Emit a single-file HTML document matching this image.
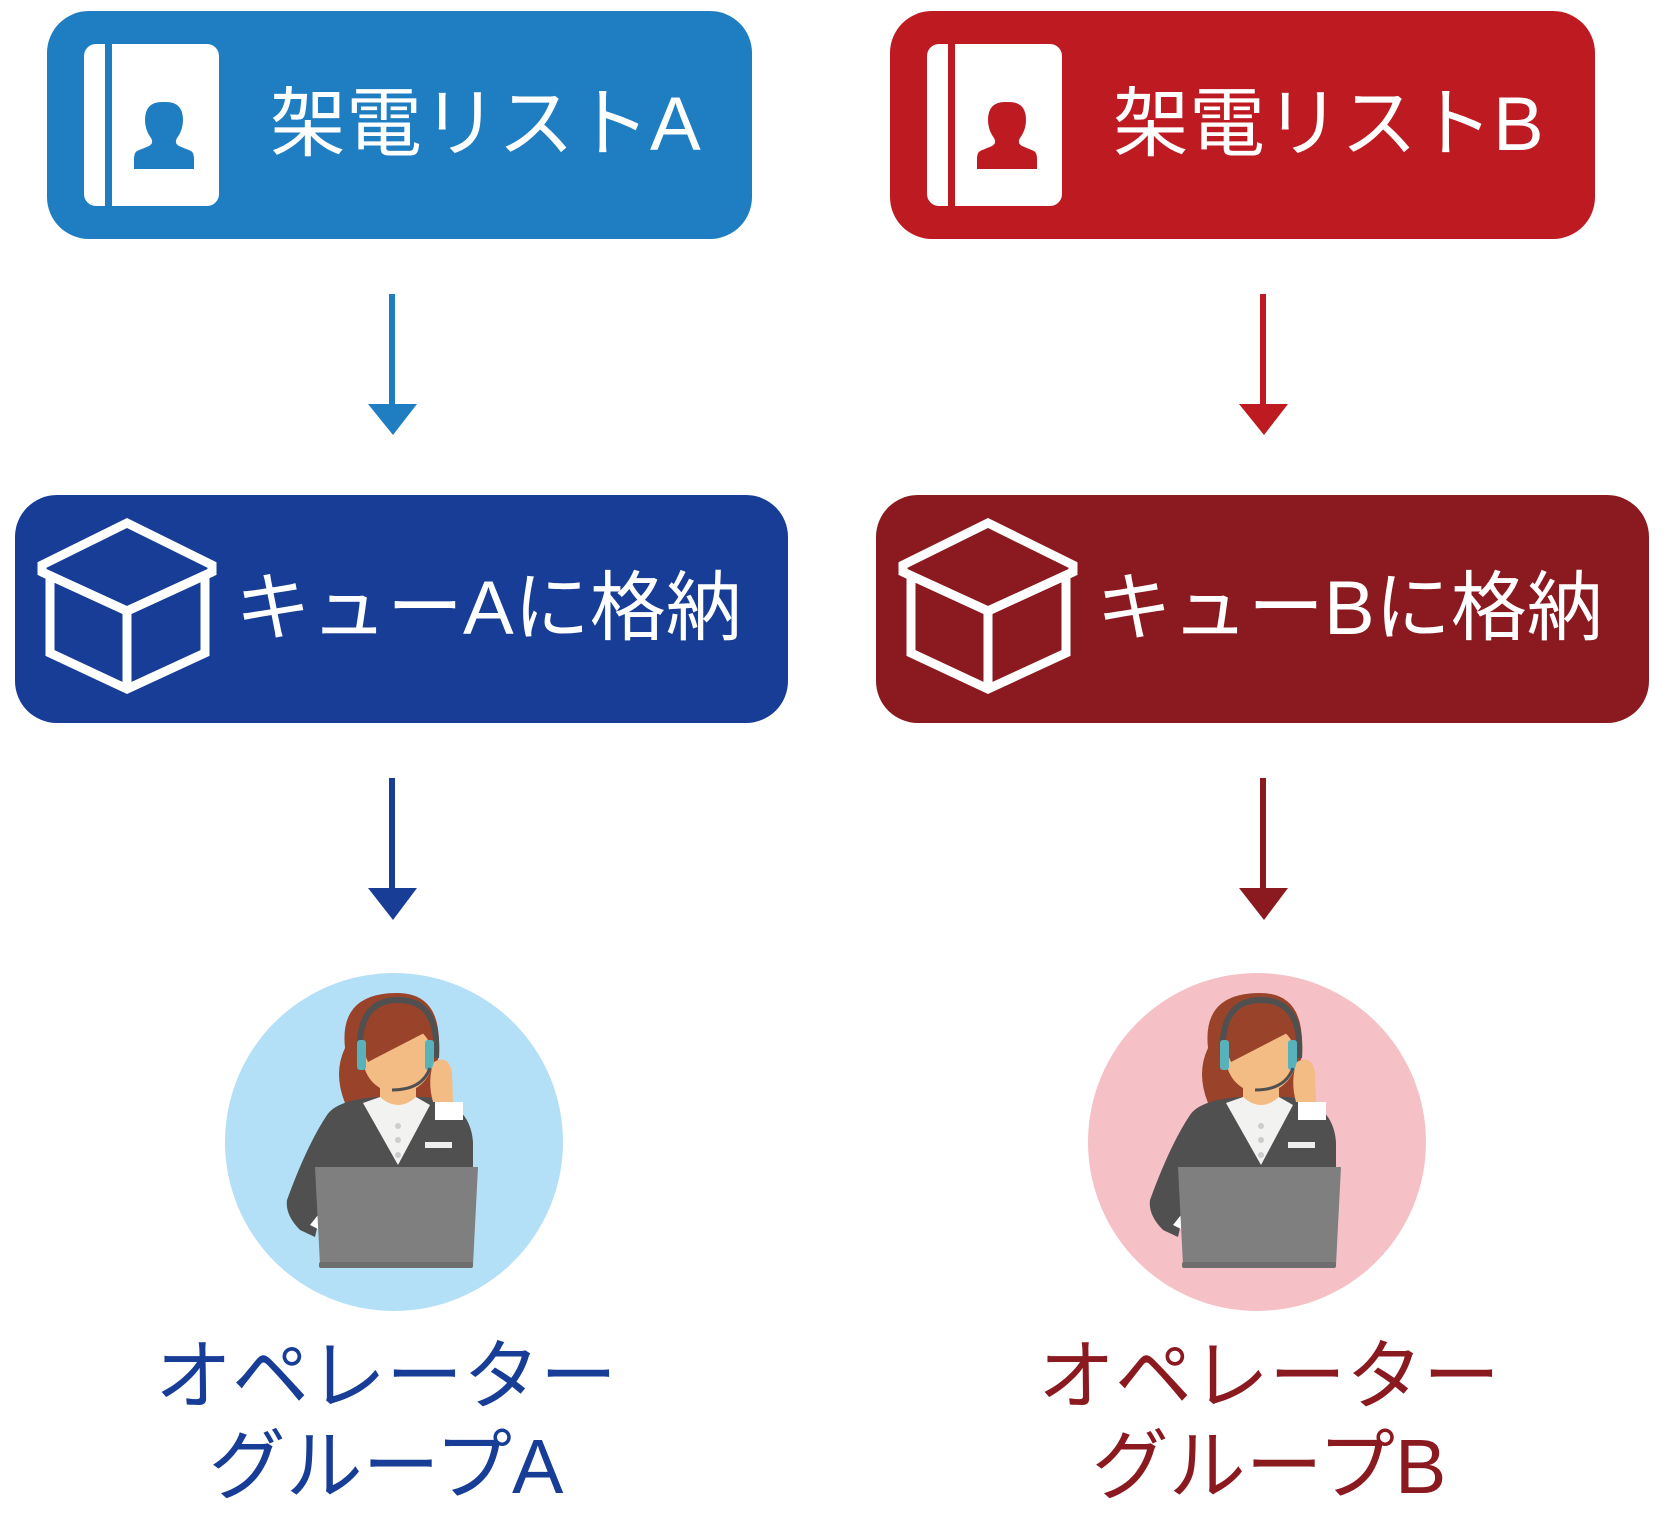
<!DOCTYPE html>
<html><head><meta charset="utf-8"><style>
html,body{margin:0;padding:0;background:#fff;}
svg{display:block;}
text{font-family:"Liberation Sans","Noto Sans CJK JP",sans-serif;}
</style></head><body>
<svg width="1665" height="1535" viewBox="0 0 1665 1535" xmlns="http://www.w3.org/2000/svg">
<defs>
<g id="book">
  <path d="M84,56 a12,12 0 0 1 12,-12 h9 v162 h-9 a12,12 0 0 1 -12,-12 z" fill="#fff"/>
  <path d="M112,44 h95 a12,12 0 0 1 12,12 v138 a12,12 0 0 1 -12,12 h-95 z" fill="#fff"/>
</g>
<g id="boxicon" fill="none" stroke="#fff" stroke-width="9" stroke-linejoin="miter">
  <polygon points="42,565 127,523 212,565 212,572 127,611 42,572"/>
  <polyline points="42,572 127,611 212,572"/>
  <polyline points="50,575 50,653 127,689 205,653 205,575"/>
  <line x1="127" y1="611" x2="127" y2="689"/>
</g>
<g id="person">
  <!-- hair back -->
  <path d="M345,1103 q-12,-30 0,-55 q-6,-55 52,-55 q42,0 42,50 l-4,60 z" fill="#99432b"/>
  <!-- body / jacket -->
  <path d="M300,1230 q-15,-15 -13,-30 q20,-55 40,-85 q10,-15 50,-18 h48 q45,5 48,45 v60 h-150 l-8,35 z" fill="#505050"/>
  <path d="M310,1225 l8,-10 l2,15 z" fill="#fff"/>
  <!-- neck -->
  <rect x="380" y="1080" width="36" height="28" fill="#f4bc85"/>
  <!-- collar -->
  <path d="M363,1103 l17,-6 q18,16 36,0 l14,8 l-32,60 z" fill="#f2f2f1"/>
  <circle cx="398" cy="1126" r="3" fill="#ccc"/><circle cx="398" cy="1140" r="3" fill="#ccc"/><circle cx="398" cy="1155" r="3" fill="#ccc"/>
  <rect x="425" y="1142" width="27" height="6" fill="#eee"/>
  <!-- face -->
  <ellipse cx="398" cy="1058" rx="35" ry="35" fill="#f4bc85"/>
  <path d="M363,1050 q-2,-35 35,-38 q25,0 32,18 l-62,32z" fill="#99432b"/>
  <path d="M426,1030 l8,22 l0,-20z" fill="#99432b"/>
  <!-- headset -->
  <path d="M360,1058 q-4,-58 38,-58 q42,0 38,58" fill="none" stroke="#505050" stroke-width="6"/>
  <rect x="357" y="1040" width="9" height="30" rx="3" fill="#57b2bb"/>
  <rect x="425" y="1040" width="9" height="30" rx="3" fill="#57b2bb"/>
  <path d="M430,1068 q-8,22 -38,22" stroke="#505050" stroke-width="3" fill="none"/>
  <!-- hand -->
  <path d="M434,1062 q14,-8 18,10 l1,30 h-20 q-6,-22 1,-40z" fill="#f4bc85"/>
  <rect x="435" y="1102" width="28" height="18" fill="#fff"/>
  <!-- laptop -->
  <path d="M315,1167 h163 l-5,98 h-153 z" fill="#7f7f7f"/>
  <rect x="319" y="1262" width="154" height="6" rx="2" fill="#6e6e6e"/>
</g>
</defs>

<!-- Left column -->
<rect x="47" y="11" width="705" height="228" rx="42" fill="#1f7ec2"/>
<use href="#book"/>
<path d="M166,102 q17,0 17,18 q0,10 -6,18 q-3,5 2,8 l12,5 q3,2 3,8 v10 h-60 v-10 q0,-6 3,-8 l12,-5 q5,-3 2,-8 q-6,-8 -6,-18 q0,-18 17,-18z" fill="#1f7ec2"/>
<text x="270" y="150" font-size="76" fill="#fff">架電リストA</text>

<line x1="392" y1="294" x2="392" y2="406" stroke="#1f7ec2" stroke-width="6"/>
<polygon points="368,404 417,404 393,435" fill="#1f7ec2"/>

<rect x="15" y="495" width="773" height="228" rx="42" fill="#173d96"/>
<use href="#boxicon"/>
<text x="235" y="634" font-size="76" fill="#fff">キューAに格納</text>

<line x1="392" y1="778" x2="392" y2="890" stroke="#173d96" stroke-width="6"/>
<polygon points="368,888 417,888 393,920" fill="#173d96"/>

<circle cx="394" cy="1142" r="169" fill="#b3e0f6"/>
<use href="#person"/>
<text x="386" y="1403" font-size="77" fill="#173d96" text-anchor="middle">オペレーター</text>
<text x="386" y="1493" font-size="77" fill="#173d96" text-anchor="middle">グループA</text>

<!-- Right column -->
<rect x="890" y="11" width="705" height="228" rx="42" fill="#be1a22"/>
<g transform="translate(843,0)"><use href="#book"/>
<path d="M166,102 q17,0 17,18 q0,10 -6,18 q-3,5 2,8 l12,5 q3,2 3,8 v10 h-60 v-10 q0,-6 3,-8 l12,-5 q5,-3 2,-8 q-6,-8 -6,-18 q0,-18 17,-18z" fill="#be1a22"/></g>
<text x="1113" y="150" font-size="76" fill="#fff">架電リストB</text>

<line x1="1263" y1="294" x2="1263" y2="406" stroke="#be1a22" stroke-width="6"/>
<polygon points="1239,404 1288,404 1264,435" fill="#be1a22"/>

<rect x="876" y="495" width="773" height="228" rx="42" fill="#8a1a20"/>
<g transform="translate(861,0)"><use href="#boxicon"/></g>
<text x="1096" y="634" font-size="76" fill="#fff">キューBに格納</text>

<line x1="1263" y1="778" x2="1263" y2="890" stroke="#8a1a20" stroke-width="6"/>
<polygon points="1239,888 1288,888 1264,920" fill="#8a1a20"/>

<circle cx="1257" cy="1142" r="169" fill="#f5c1c6"/>
<g transform="translate(863,0)"><use href="#person"/></g>
<text x="1269" y="1403" font-size="77" fill="#8a1a20" text-anchor="middle">オペレーター</text>
<text x="1269" y="1493" font-size="77" fill="#8a1a20" text-anchor="middle">グループB</text>
</svg>
</body></html>
